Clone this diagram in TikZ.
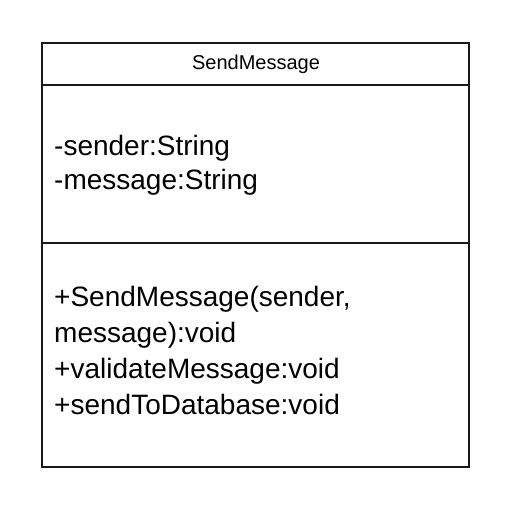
\documentclass[tikz,border=0pt]{standalone}
\usepackage{fontspec}
\setmainfont{Liberation Sans}
\tikzset{
  classline/.style={line width=2pt, black!90},
  membertext/.style={font=\fontsize{28}{34}\selectfont, anchor=base west, inner sep=0pt},
}
\begin{document}
\begin{tikzpicture}[x=1pt,y=-1pt]
    \useasboundingbox (0,0) rectangle (512,510);
    % class box and its compartments
    \draw[classline] (42,43) rectangle (469,467);
    \draw[classline] (42,85) -- (469,85);
    \draw[classline] (42,243) -- (469,243);
    % class name
    \node[font=\fontsize{20}{24}\selectfont, anchor=base, inner sep=0pt] (className) at (256,70) {SendMessage};
    % attributes
    \node[membertext] (attrSender) at (54,156) {-sender:String};
    \node[membertext] (attrMessage) at (54,190) {-message:String};
    % operations
    \node[membertext] (opCtorA) at (54,307) {+SendMessage(sender,};
    \node[membertext] (opCtorB) at (54,343) {message):void};
    \node[membertext] (opValidate) at (54,379) {+validateMessage:void};
    \node[membertext] (opSend) at (54,415) {+sendToDatabase:void};
\end{tikzpicture}
\end{document}
